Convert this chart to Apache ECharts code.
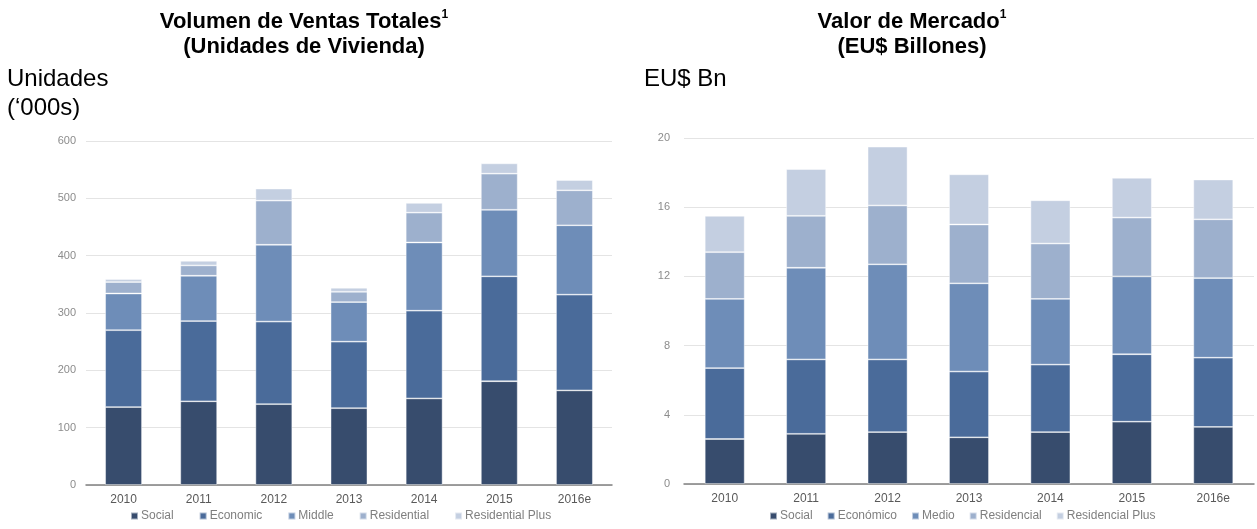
<!DOCTYPE html>
<html>
<head>
<meta charset="utf-8">
<script src="https://cdn.jsdelivr.net/npm/echarts/dist/echarts.min.js"></script>
<style>
  html, body { margin: 0; padding: 0; background: #fff; }
  #chart { width: 1257px; height: 529px; }
</style>
</head>
<body>
<div id="chart"></div>
<script>
// ── Data ─────────────────────────────────────────────────────────────────────
var years = ['2010', '2011', '2012', '2013', '2014', '2015', '2016e'];

// Volumen de ventas ('000 unidades)
var volNames = ['Social', 'Economic', 'Middle', 'Residential', 'Residential Plus'];
var volSocial      = [136, 146, 141, 134, 151, 181, 165];
var volEconomic    = [134, 140, 144, 116, 153, 183, 167];
var volMiddle      = [64, 79, 134, 69, 119, 116, 121];
var volResidential = [20, 18, 77, 18, 52, 63, 61];
var volResPlus     = [5, 8, 21, 7, 17, 18, 18];
var volTicks = [0, 100, 200, 300, 400, 500, 600];

// Valor de mercado (EU$ Bn)
var valNames = ['Social', 'Económico', 'Medio', 'Residencial', 'Residencial Plus'];
var valSocial      = [2.6, 2.9, 3.0, 2.7, 3.0, 3.6, 3.3];
var valEconomico   = [4.1, 4.3, 4.2, 3.8, 3.9, 3.9, 4.0];
var valMedio       = [4.0, 5.3, 5.5, 5.1, 3.8, 4.5, 4.6];
var valResidencial = [2.7, 3.0, 3.4, 3.4, 3.2, 3.4, 3.4];
var valResPlus     = [2.1, 2.7, 3.4, 2.9, 2.5, 2.3, 2.3];
var valTicks = [0, 4, 8, 12, 16, 20];

// ── Style ────────────────────────────────────────────────────────────────────
var FONT = "'Liberation Sans', Arial, sans-serif";
var COLORS = ['#374c6d', '#4a6b9a', '#6e8db8', '#9db0cd', '#c4cfe1'];

function barSeries(name, data, idx, stack, color) {
  return {
    name: name,
    type: 'bar',
    stack: stack,
    xAxisIndex: idx,
    yAxisIndex: idx,
    barWidth: '49%',
    data: data,
    itemStyle: { color: color, borderColor: 'rgba(255,255,255,0.55)', borderWidth: 0.8 },
    emphasis: { disabled: true }
  };
}

function xAxis(idx) {
  return {
    type: 'category',
    gridIndex: idx,
    data: years,
    axisLine: { lineStyle: { color: '#808080', width: 1.5 } },
    axisTick: { show: false },
    axisLabel: { color: '#595959', fontSize: 12, fontFamily: FONT, margin: 9 }
  };
}

function yAxis(idx, ticks, margin) {
  return {
    type: 'value',
    gridIndex: idx,
    min: ticks[0],
    max: ticks[ticks.length - 1],
    interval: ticks[1] - ticks[0],
    axisLine: { show: false },
    axisTick: { show: false },
    splitLine: { lineStyle: { color: '#e4e4e4', width: 1 } },
    axisLabel: { color: '#8c8c8c', fontSize: 11, fontFamily: FONT, margin: margin }
  };
}

function legend(names, left, gap) {
  return {
    data: names,
    left: left,
    bottom: 2,
    orient: 'horizontal',
    icon: 'rect',
    itemWidth: 7,
    itemHeight: 7,
    itemGap: gap,
    selectedMode: false,
    textStyle: { color: '#7f7f7f', fontSize: 12, fontFamily: FONT, padding: [0, 0, 0, -2] }
  };
}

var titleRich = { sup: { fontSize: 12, fontWeight: 'bold', fontFamily: FONT, verticalAlign: 'top', lineHeight: 16, fill: '#000' } };

function titleText(x, text) {
  return {
    type: 'text',
    x: x,
    y: 9,
    style: {
      text: text,
      fill: '#000',
      font: 'bold 22px ' + FONT,
      align: 'center',
      lineHeight: 25,
      rich: titleRich
    }
  };
}

var chart = echarts.init(document.getElementById('chart'), null, { renderer: 'canvas' });

var series = [];
[volSocial, volEconomic, volMiddle, volResidential, volResPlus].forEach(function (d, i) {
  series.push(barSeries(volNames[i], d, 0, 'vol', COLORS[i]));
});
[valSocial, valEconomico, valMedio, valResidencial, valResPlus].forEach(function (d, i) {
  series.push(barSeries(valNames[i], d, 1, 'val', COLORS[i]));
});

chart.setOption({
  animation: false,
  color: COLORS,
  textStyle: { fontFamily: FONT },
  grid: [
    { left: 86, right: 645, top: 141, bottom: 44 },
    { left: 684, right: 3, top: 138, bottom: 45 }
  ],
  xAxis: [xAxis(0), xAxis(1)],
  yAxis: [yAxis(0, volTicks, 10), yAxis(1, valTicks, 14)],
  legend: [legend(volNames, 125, 25), legend(valNames, 764, 14)],
  graphic: [
    titleText(304, 'Volumen de Ventas Totales{sup|1}\n(Unidades de Vivienda)'),
    titleText(912, 'Valor de Mercado{sup|1}\n(EU$ Billones)'),
    {
      type: 'text', x: 7, y: 65,
      style: { text: 'Unidades\n(‘000s)', fill: '#000', font: '24px ' + FONT, lineHeight: 29 }
    },
    {
      type: 'text', x: 644, y: 65,
      style: { text: 'EU$ Bn', fill: '#000', font: '24px ' + FONT, lineHeight: 29 }
    }
  ],
  series: series
});
</script>
</body>
</html>
